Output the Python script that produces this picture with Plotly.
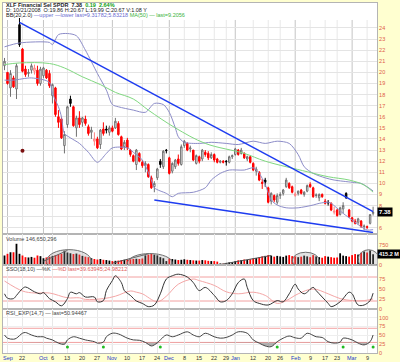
import pandas as pd
import plotly.graph_objects as go
from plotly.subplots import make_subplots

# ---------------- data ----------------
holidays = ['2008-11-27', '2008-12-25', '2009-01-01', '2009-01-19', '2009-02-16']
dates = [d.strftime('%Y-%m-%d') for d in pd.bdate_range('2008-09-12', '2009-03-11')
         if d.strftime('%Y-%m-%d') not in holidays]

opens = [20.6, 20.0, 18.6, 19.5, 18.5, 24.3, 22.1, 20.3, 19.9, 20.2, 20.1, 20.2, 19.0,
         19.7, 20.2, 19.9, 17.9, 18.6, 16.0, 15.8, 13.4, 15.3, 17.6, 16.9, 15.0, 15.9, 15.5, 15.8, 15.1, 14.6, 13.8, 14.0, 13.5, 14.9, 14.9, 14.6,
         15.0, 15.0, 15.4, 14.2, 13.3, 13.9, 13.0, 12.5, 11.7, 12.7, 11.9, 11.6, 11.7, 10.5, 9.7, 10.5, 12.0, 11.5, 13.0,
         12.3, 11.1, 11.5, 12.2, 11.7, 13.4, 13.6, 13.1, 13.0, 11.8, 12.4, 12.2, 12.8, 12.7, 12.3, 12.6, 12.2, 11.9, 12.0, 12.0, 11.9, 12.4,
         12.6, 13.0, 12.7, 12.7, 12.2, 12.4, 11.8, 11.1, 11.0, 10.1, 10.3, 9.6, 8.4, 8.9, 8.3, 8.9, 9.1, 9.7, 10.0, 9.7,
         8.9, 9.1, 9.4, 9.0, 9.3, 9.9, 9.6, 8.9, 8.7, 9.0, 8.4, 8.3, 8.2, 7.4, 7.6, 7.2, 7.7, 9.1, 7.6,
         6.9, 6.6, 6.5, 6.6, 6.1, 6.1, 6.4, 7.3]
highs = [21.3, 20.0, 20.2, 19.7, 20.8, 24.9, 22.2, 20.6, 20.3, 20.8, 20.7, 20.6, 20.5,
         20.5, 20.3, 20.2, 19.0, 18.7, 16.6, 16.0, 14.7, 17.0, 17.9, 17.0, 16.1, 16.5, 16.0, 16.1, 15.3, 15.1, 14.6, 14.2, 14.9, 15.5, 15.2, 15.2,
         15.2, 15.9, 15.6, 14.3, 13.9, 14.1, 13.1, 12.6, 13.1, 12.8, 12.1, 12.0, 11.8, 10.7, 10.2, 11.4, 12.2, 13.0, 13.1,
         12.4, 11.9, 12.2, 12.6, 13.5, 13.9, 13.7, 13.4, 13.0, 12.6, 12.5, 13.1, 13.0, 12.9, 12.8, 12.7, 12.3, 12.1, 12.1, 12.1, 12.5, 12.6,
         13.2, 13.1, 13.2, 12.8, 12.5, 12.5, 11.9, 11.5, 11.1, 10.4, 10.5, 9.7, 9.2, 9.0, 9.1, 9.2, 9.5, 10.5, 10.1, 9.8,
         9.2, 9.35, 9.5, 9.3, 9.9, 10.1, 9.7, 9.1, 9.1, 9.1, 8.6, 8.5, 8.3, 7.9, 7.7, 7.9, 8.3, 9.2, 7.7,
         7.0, 6.8, 6.9, 6.7, 6.3, 6.2, 7.2, 7.9]
lows = [20.2, 18.9, 17.8, 18.6, 17.6, 22.3, 20.0, 19.6, 19.6, 19.9, 19.8, 18.8, 18.8,
        19.5, 19.4, 18.6, 17.2, 16.0, 15.0, 14.0, 12.7, 15.0, 16.9, 15.1, 14.2, 15.0, 15.1, 15.2, 14.3, 14.0, 13.4, 13.1, 13.1, 14.3, 14.5, 14.3,
        14.6, 14.9, 14.3, 13.0, 13.0, 13.0, 12.4, 11.9, 11.2, 11.9, 11.4, 11.0, 10.5, 9.5, 9.2, 10.3, 11.4, 11.3, 12.7,
        10.8, 10.9, 11.3, 11.6, 11.6, 13.2, 12.9, 12.8, 12.0, 11.7, 11.8, 12.0, 12.4, 12.1, 12.2, 11.9, 11.8, 11.8, 11.8, 11.6, 11.8, 12.2,
        12.5, 12.5, 12.6, 12.2, 12.0, 11.8, 11.1, 10.7, 10.2, 9.5, 9.7, 8.2, 8.1, 8.3, 8.1, 8.6, 8.9, 9.6, 9.5, 9.1,
        8.8, 8.9, 9.0, 8.8, 9.2, 9.6, 8.7, 8.7, 8.4, 8.7, 8.1, 8.0, 7.5, 7.2, 7.0, 7.1, 7.3, 8.6, 6.9,
        6.5, 6.3, 6.3, 6.0, 5.8, 5.9, 6.3, 7.1]
closes = [21.0, 19.0, 19.9, 18.7, 20.6, 22.5, 20.1, 19.8, 20.0, 20.6, 20.4, 19.0, 20.3,
          20.4, 19.5, 18.8, 18.9, 16.2, 15.5, 14.1, 14.4, 16.9, 17.2, 15.2, 15.9, 15.3, 15.9, 15.4, 14.5, 14.8, 14.0, 13.2, 14.8, 14.5, 14.8, 15.0,
          14.7, 15.6, 14.4, 13.1, 13.7, 13.2, 12.6, 12.0, 13.0, 12.0, 11.6, 11.8, 10.6, 9.6, 10.0, 11.3, 11.7, 12.9, 12.95,
          10.9, 11.8, 12.1, 11.8, 13.3, 13.8, 13.0, 13.2, 12.1, 12.5, 12.0, 13.0, 12.6, 12.3, 12.6, 12.1, 11.9, 12.0, 11.9, 11.95, 12.4, 12.5,
          13.1, 12.6, 13.0, 12.3, 12.4, 11.9, 11.2, 11.3, 10.3, 10.0, 10.1, 8.3, 9.1, 8.5, 8.9, 9.0, 9.4, 10.3, 9.6, 9.2,
          9.05, 9.3, 9.1, 9.2, 9.8, 9.7, 8.8, 8.95, 9.0, 8.8, 8.2, 8.25, 7.6, 7.5, 7.1, 7.8, 8.0, 8.7, 7.0,
          6.6, 6.4, 6.8, 6.1, 6.15, 6.05, 7.19, 7.38]
volume_m = [365, 430, 490, 490, 815, 430, 365, 300, 290, 310, 280, 365, 340,
            260, 290, 320, 350, 380, 410, 430, 550, 480, 450, 420, 440, 400, 350, 320, 300, 260, 230, 210, 230, 200, 190, 170,
            150, 160, 170, 190, 200, 210, 220, 230, 240, 230, 250, 370, 400, 430, 400, 370, 300, 260, 150,
            250, 230, 210, 190, 200, 220, 200, 190, 180, 170, 170, 190, 180, 160, 150, 150, 130, 60, 50, 80, 100, 110,
            150, 180, 190, 210, 200, 220, 250, 270, 300, 330, 350, 380, 360, 320, 350, 330, 310, 360, 380, 340,
            330, 300, 320, 360, 330, 300, 380, 330, 300, 280, 340, 320, 300, 280, 290, 450, 360, 340, 320,
            380, 420, 400, 470, 520, 480, 560, 415.2]

# indicators (bar index, value)
ma50_idx = [0, 5, 15, 20, 26, 32, 37, 43, 48, 57, 67, 80, 87, 101, 108, 115, 120, 123]
ma50_val = [20.7, 20.85, 20.8, 20.4, 19.6, 18.9, 18.2, 17.6, 16.6, 15.0, 13.6, 12.7, 12.0, 11.05, 10.6, 10.3, 9.85, 9.21]
bb_up_idx = [0, 5, 15, 16, 18, 21, 24, 27, 31, 34, 36, 38, 43, 47, 50, 53, 55, 57, 58, 60, 65, 69, 74, 78, 83, 87, 91, 95, 98, 100, 103, 107, 110, 116, 119, 123]
bb_up_val = [22.3, 22.65, 22.7, 22.5, 23.4, 23.5, 23.3, 22.0, 19.9, 18.4, 17.1, 16.9, 16.6, 16.4, 17.2, 17.1, 16.4, 15.0, 14.2, 13.7, 13.6, 13.7, 13.6, 13.5, 13.8, 13.6, 13.8, 13.6, 12.6, 11.5, 10.9, 10.5, 10.3, 10.1, 10.0, 9.32]
bb_lo_idx = [0, 3, 9, 15, 16, 18, 19, 20, 22, 25, 28, 31, 34, 36, 41, 43, 46, 49, 50, 54, 56, 58, 63, 67, 69, 72, 75, 80, 83, 85, 87, 89, 91, 94, 98, 103, 105, 108, 109, 113, 116, 119, 121, 123]
bb_lo_val = [19.3, 19.3, 19.5, 19.1, 18.1, 16.9, 16.0, 14.5, 14.1, 13.6, 12.8, 11.9, 12.7, 13.2, 13.2, 12.8, 12.1, 10.3, 9.6, 9.1, 8.8, 9.1, 9.2, 9.6, 10.3, 10.9, 11.2, 11.2, 11.4, 10.9, 9.9, 8.5, 8.05, 7.8, 7.8, 8.05, 8.2, 8.3, 8.2, 7.3, 6.7, 6.1, 5.8, 5.83]

k_idx = [0, 1, 3, 4, 6, 7, 10, 12, 13, 15, 17, 19, 21, 22, 24, 25, 27, 30, 31, 33, 34, 36, 37, 39, 40, 42, 44, 46, 48, 50,
         52, 54, 56, 58, 61, 63, 65, 67, 70, 72, 74, 76, 78, 80, 81, 83, 85, 88, 91, 93, 95, 97, 98, 100, 103, 104, 106, 108, 109, 112,
         115, 116, 118, 120, 122, 123]
k_val = [38, 27, 26, 34, 51, 55, 43, 38, 41, 26, 18, 8, 26, 42, 38, 41, 30, 30, 18, 21, 46, 71, 83, 66, 46, 34, 20, 14, 6, 10,
         38, 75, 83, 87, 80, 66, 46, 54, 34, 18, 21, 38, 66, 75, 54, 21, 14, 10, 21, 18, 38, 62, 50, 38, 54, 46, 30, 14, 6, 18,
         42, 38, 10, 10, 21, 39.6]
d_idx = [0, 6, 10, 15, 21, 25, 27, 33, 37, 42, 44, 46, 51, 54, 58, 63, 65, 70, 74, 78, 83, 87, 91, 94, 98, 103, 108, 112, 116, 120, 123]
d_val = [70, 45, 40, 40, 28, 28, 24, 26, 32, 45, 42, 38, 18, 32, 62, 75, 71, 59, 43, 38, 42, 34, 14, 21, 38, 50, 38, 26, 21, 21, 25]

r_idx = [0, 1, 3, 4, 6, 7, 9, 11, 13, 14, 16, 18, 20, 21, 23, 25, 27, 30, 31, 33, 34, 36, 38, 41, 43, 45, 47, 49, 50, 52,
         54, 56, 58, 61, 63, 65, 67, 70, 72, 74, 76, 78, 81, 83, 85, 87, 89, 91, 93, 95, 97, 99, 101, 104, 106, 108, 110, 112, 113, 116,
         118, 120, 122, 123]
r_val = [51, 42, 39, 42, 56, 58, 51, 46, 46, 42, 37, 28, 25, 37, 46, 42, 37, 32, 28, 31, 46, 56, 54, 42, 37, 36, 30, 20, 23, 37,
         51, 46, 51, 60, 51, 46, 56, 46, 42, 44, 51, 60, 56, 37, 28, 20, 18, 32, 42, 48, 43, 42, 56, 46, 44, 32, 28, 31, 42, 37,
         28, 23, 32, 51]
sig_idx = [21, 33, 52, 91, 113, 123]
sig_val = [17, 17, 17, 17, 17, 17]

# user drawn annotations
trend_up_dates = ['2008-09-19', '2009-03-11']
trend_up_vals = [24.5, 7.45]
trend_lo_dates = ['2008-11-21', '2009-03-11']
trend_lo_vals = [8.5, 5.57]
div_dates = ['2008-09-22']
div_vals = [12.95]
ell_i0 = [14, 41, 96, 118]
ell_i1 = [29, 56, 105, 125]
ell_top = [590, 440, 490, 585]
ell_bot = [-300, -300, -150, -150]
vl_i0 = [13, 36, 72]
vl_v0 = [146, 70, 20]
vl_i1 = [21, 48, 89]
vl_v1 = [560, 430, 365]

tick_dates = ['2008-09-15', '2008-09-22', '2008-10-01', '2008-10-06', '2008-10-13', '2008-10-20', '2008-10-27',
              '2008-11-03', '2008-11-10', '2008-11-17', '2008-11-24', '2008-12-01', '2008-12-08', '2008-12-15',
              '2008-12-22', '2008-12-29', '2009-01-02', '2009-01-12', '2009-01-20', '2009-01-26', '2009-02-02',
              '2009-02-09', '2009-02-17', '2009-02-23', '2009-03-02', '2009-03-09']
tick_text = ['Sep', '22', 'Oct', '6', '13', '20', '27', 'Nov', '10', '17', '24', 'Dec', '8', '15', '22', '29',
             'Jan', '12', '20', '26', 'Feb', '9', '17', '23', 'Mar', '9']
price_ticks = list(range(6, 25))

assert len(dates) == len(opens) == len(highs) == len(lows) == len(closes) == len(volume_m) == 124

# ---------------- figure ----------------
N = len(dates)
FONT = 'Liberation Sans'
AXC = '#E05A47'
fig = make_subplots(rows=4, cols=1, shared_xaxes=True, vertical_spacing=0,
                    row_heights=[231, 31, 44, 44])

prev = [closes[0]] + closes[:-1]
up = [c >= p for c, p in zip(closes, prev)]
blk = [i for i in range(N) if up[i]]
red = [i for i in range(N) if not up[i]]

fig.add_trace(go.Scatter(x=[dates[i] for i in bb_up_idx], y=bb_up_val, mode='lines',
                         line=dict(color='#8C8CC8', width=1, shape='spline', smoothing=0.8)), row=1, col=1)
fig.add_trace(go.Scatter(x=[dates[i] for i in bb_lo_idx], y=bb_lo_val, mode='lines',
                         line=dict(color='#8C8CC8', width=1, shape='spline', smoothing=0.8)), row=1, col=1)
fig.add_trace(go.Scatter(x=[dates[i] for i in ma50_idx], y=ma50_val, mode='lines',
                         line=dict(color='#80D880', width=1, shape='spline')), row=1, col=1)

for idxs, hol, fil in ((blk, '#707070', 'black'), (red, '#FF8080', '#FF0000')):
    fig.add_trace(go.Candlestick(
        x=[dates[i] for i in idxs], open=[opens[i] for i in idxs], high=[highs[i] for i in idxs],
        low=[lows[i] for i in idxs], close=[closes[i] for i in idxs],
        increasing=dict(line=dict(color=hol, width=1), fillcolor='white'),
        decreasing=dict(line=dict(color=fil, width=1), fillcolor=fil),
        whiskerwidth=0, hoverinfo='skip'), row=1, col=1)

fig.add_trace(go.Scatter(x=trend_up_dates, y=trend_up_vals, mode='lines',
                         line=dict(color='#1E3CF0', width=1.5)), row=1, col=1)
fig.add_trace(go.Scatter(x=trend_lo_dates, y=trend_lo_vals, mode='lines',
                         line=dict(color='#1E3CF0', width=1.5)), row=1, col=1)
fig.add_trace(go.Scatter(x=div_dates, y=div_vals, mode='markers',
                         marker=dict(color='#7B1010', size=4)), row=1, col=1)

fig.add_trace(go.Bar(x=dates, y=[v * 1e6 for v in volume_m],
                     marker=dict(color=['black' if u else '#FF0000' for u in up], line=dict(width=0))),
              row=2, col=1)
for a, va, b, vb in zip(vl_i0, vl_v0, vl_i1, vl_v1):
    fig.add_trace(go.Scatter(x=[dates[a], dates[b]], y=[va * 1e6, vb * 1e6], mode='lines',
                             line=dict(color='#555555', width=1)), row=2, col=1)

fig.add_trace(go.Scatter(x=[dates[i] for i in d_idx], y=d_val, mode='lines',
                         line=dict(color='#F4A6A6', width=1, shape='spline')), row=3, col=1)
fig.add_trace(go.Scatter(x=[dates[i] for i in k_idx], y=k_val, mode='lines',
                         line=dict(color='#333333', width=1, shape='spline')), row=3, col=1)

rx = [dates[i] for i in r_idx]
fig.add_trace(go.Scatter(x=rx, y=[30] * len(rx), mode='lines', line=dict(width=0)), row=4, col=1)
fig.add_trace(go.Scatter(x=rx, y=[min(v, 30) for v in r_val], mode='lines', line=dict(width=0),
                         fill='tonexty', fillcolor='rgba(90,90,90,0.45)'), row=4, col=1)
fig.add_trace(go.Scatter(x=rx, y=r_val, mode='lines',
                         line=dict(color='#444444', width=1, shape='spline')), row=4, col=1)
fig.add_trace(go.Scatter(x=[dates[i] for i in sig_idx], y=sig_val, mode='markers',
                         marker=dict(color='#22BB22', size=3)), row=4, col=1)

for r in range(1, 5):
    fig.update_xaxes(row=r, col=1, type='category', categoryorder='array', categoryarray=dates,
                     range=[-0.5, N + 0.3], tickvals=tick_dates,
                     showgrid=(r != 1), gridcolor='#E8E8E8', gridwidth=1, showline=True, mirror=True,
                     linecolor='#B4B4B4', linewidth=1, ticks='', zeroline=False,
                     showticklabels=False, rangeslider=dict(visible=False))

main_rng = [5.44, 26.25]
vol_rng = [0, 1.19e9]
sso_rng = [0, 110]
rsi_rng = [0, 124.6]
common_y = dict(side='right', ticks='', showline=True, mirror=True, linecolor='#B4B4B4', linewidth=1,
                zeroline=False, tickfont=dict(family=FONT, size=5.5, color=AXC))
fig.update_yaxes(row=1, col=1, range=main_rng, tickvals=price_ticks,
                 ticktext=['' if v == 7 else str(v) for v in price_ticks],
                 showgrid=True, gridcolor='#E4E4E4', **common_y)
fig.update_yaxes(row=2, col=1, range=vol_rng, tickvals=[0, 750e6], ticktext=['0', '750'], showgrid=False, **common_y)
fig.update_yaxes(row=3, col=1, range=sso_rng, tickvals=[0, 25, 50, 75], showgrid=False, **common_y)
fig.update_yaxes(row=4, col=1, range=rsi_rng, tickvals=[0, 25, 50, 75, 100], showgrid=True,
                 gridcolor='#EEEEEE', **common_y)

shapes = []
grid_top = (24.72 - main_rng[0]) / (main_rng[1] - main_rng[0])
month_pos = [dates.index(d) for d, t in zip(tick_dates, tick_text) if t.isalpha()]
week_pos = [dates.index(d) for d, t in zip(tick_dates, tick_text) if not t.isalpha()]
for w in week_pos:
    shapes.append(dict(type='line', xref='x', yref='y domain', x0=w, x1=w, y0=0, y1=grid_top,
                       line=dict(color='#E8E8E8', width=1), layer='below'))
for r, (xr, yr) in enumerate((('x', 'y'), ('x2', 'y2'), ('x3', 'y3'), ('x4', 'y4'))):
    top = grid_top if r == 0 else 1
    for m in month_pos:
        shapes.append(dict(type='line', xref=xr, yref=yr + ' domain', x0=m, x1=m, y0=0, y1=top,
                           line=dict(color='#C4C4C4', width=1), layer='below'))
for lv in (20, 80):
    shapes.append(dict(type='line', xref='x3 domain', yref='y3', x0=0, x1=1, y0=lv, y1=lv,
                       line=dict(color='#F2A0A0', width=1), layer='below'))
for lv in (30, 70):
    shapes.append(dict(type='line', xref='x4 domain', yref='y4', x0=0, x1=1, y0=lv, y1=lv,
                       line=dict(color='#F2A0A0', width=1), layer='below'))
for a, b, t, bt in zip(ell_i0, ell_i1, ell_top, ell_bot):
    shapes.append(dict(type='circle', xref='x2', yref='y2', x0=a, x1=b, y0=bt * 1e6, y1=t * 1e6,
                       fillcolor='rgba(150,150,150,0.28)', line=dict(color='#707070', width=1), layer='above'))

ann = []
def txt(x, y, s, size=5.5, color='#222222'):
    ann.append(dict(xref='paper', yref='paper', x=x, y=y, text=s, showarrow=False, xanchor='left',
                    yanchor='middle', font=dict(family=FONT, size=size, color=color)))

def py(p):
    return (353 - p) / 350.0

txt(0.003, py(4.6), '<b>XLF Financial Sel SPDR</b>  <b>7.38</b>  <span style="color:#10A010"><b>0.19  2.64%</b></span>')
txt(0.003, py(9.8), 'D: 10/21/2008  O:19.86 H:20.67 L:19.99 C:20.67 V:1.08 Y')
txt(0.003, py(15.2), 'BB(20,2.0) <span style="color:#6A6ACF">\u2014upper \u2014lower last=9.31782;5.83218</span> '
    '<span style="color:#3CB43C">MA(50) \u2014 last=9.2056</span>')
txt(0.003, py(238.5), 'Volume 146,650,296', color='#444444')
txt(0.003, py(268.5), 'SSO(18,10) \u2014%K <span style="color:#E06060">\u2014%D last=39.63945;24.98212</span>',
    color='#444444')
txt(0.003, py(312.5), 'RSI_EXP(14,7) \u2014 last=50.94467', color='#444444')

for d, t in zip(tick_dates, tick_text):
    ann.append(dict(xref='x4', yref='paper', x=dates.index(d), y=py(357.5), text=t, showarrow=False,
                    xanchor='center', yanchor='middle',
                    font=dict(family=FONT, size=5.5, color='#2236C8' if t.isalpha() else '#333333')))

ann.append(dict(xref='paper', yref='y', x=1.0, y=closes[-1], text='<b>%.2f</b>' % closes[-1], showarrow=False,
                xanchor='left', yanchor='middle', font=dict(family=FONT, size=6, color='white'),
                bgcolor='black', borderpad=1))
ann.append(dict(xref='paper', yref='y2', x=1.0, y=volume_m[-1] * 1e6, text='<b>%.1f M</b>' % volume_m[-1],
                showarrow=False, xanchor='left', yanchor='middle', font=dict(family=FONT, size=5.5, color='white'),
                bgcolor='black', borderpad=1))

fig.update_layout(width=400, height=362, margin=dict(l=3, r=23, t=3, b=9),
                  paper_bgcolor='#FFFFD0', plot_bgcolor='white', showlegend=False,
                  bargap=0.4, hovermode=False, shapes=shapes, annotations=ann,
                  font=dict(family=FONT, size=6))

fig.write_html('out.html', config={'displayModeBar': False, 'staticPlot': True},
               post_script="document.body.style.margin='0';document.body.style.padding='0';")
